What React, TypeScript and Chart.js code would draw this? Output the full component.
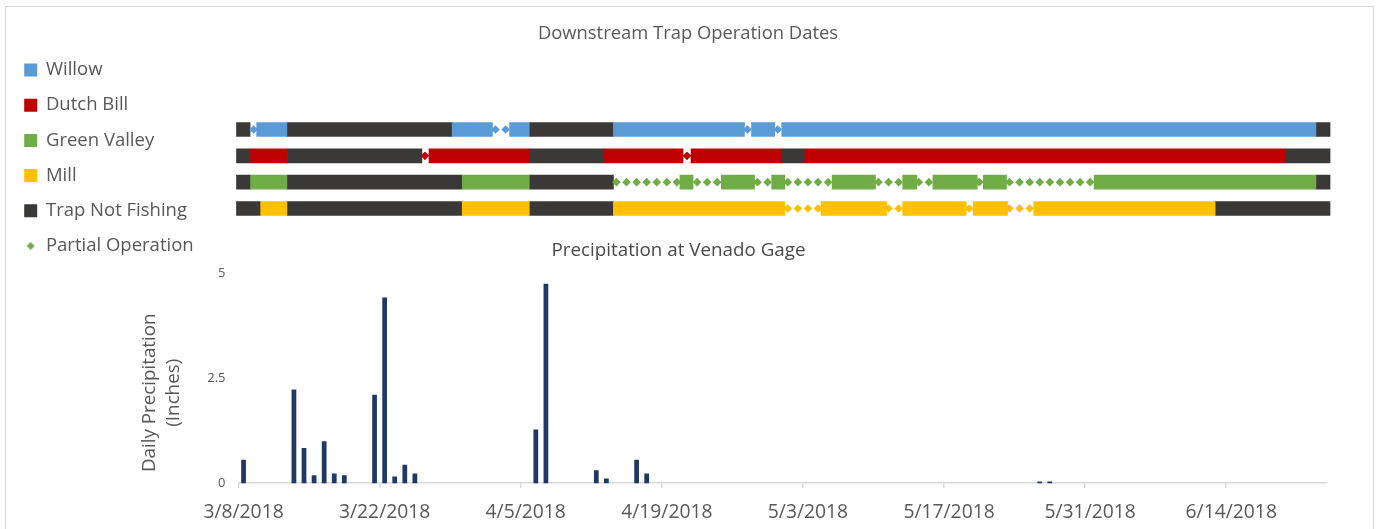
import React, { useEffect, useRef } from 'react';
import { Chart, registerables } from 'chart.js';

Chart.register(...registerables);

const FONT_FAMILY = "'Open Sans', 'Noto Sans', sans-serif";
const TEXT_COLOR = '#595959';

const chartTitle = 'Downstream Trap Operation Dates';
const precipTitle = 'Precipitation at Venado Gage';
const yAxisTitle = ['Daily Precipitation', '(Inches)'];

const rowNames = ['Willow', 'Dutch Bill', 'Green Valley', 'Mill'];
const rowColors = ['#5B9BD5', '#C00000', '#70AD47', '#FFC000'];
const notFishingLabel = 'Trap Not Fishing';
const notFishingColor = '#3B3838';
const partialLabel = 'Partial Operation';
const partialLegendColor = '#70AD47';

// Segments in days counted from the start of 3/8/2018
const willowFishing = [[1.8, 4.8], [21.2, 25.2], [26.9, 28.85], [37.2, 50.2], [50.9, 53.2], [53.9, 106.9]];
const willowNotFishing = [[-0.2, 1.15], [4.8, 21.2], [28.85, 37.2], [106.9, 108.3]];
const willowPartialDays = [1, 25, 26, 50, 53];

const dutchBillFishing = [[1.2, 4.85], [18.9, 28.85], [36.2, 44.1], [44.9, 53.9], [56.2, 103.9]];
const dutchBillNotFishing = [[-0.2, 1.2], [4.85, 18.2], [28.85, 36.2], [53.9, 56.2], [103.9, 108.3]];
const dutchBillPartialDays = [18, 44];

const greenValleyFishing = [[1.2, 4.8], [22.2, 28.85], [43.8, 45.1], [47.9, 51.2], [52.9, 54.2], [58.9, 63.2], [65.9, 67.3], [68.9, 73.3], [73.9, 76.2], [84.9, 106.9]];
const greenValleyNotFishing = [[-0.2, 1.2], [4.8, 22.2], [28.85, 37.2], [106.9, 108.3]];
const greenValleyPartialDays = [37, 38, 39, 40, 41, 42, 43, 45, 46, 47, 51, 52, 54, 55, 56, 57, 58, 63, 64, 65, 67, 68, 73, 76, 77, 78, 79, 80, 81, 82, 83, 84];

const millFishing = [[2.2, 4.8], [22.2, 28.85], [37.2, 54.2], [57.8, 64.3], [65.9, 72.2], [72.9, 76.3], [78.9, 96.9]];
const millNotFishing = [[-0.2, 2.2], [4.8, 22.2], [28.85, 37.2], [96.9, 108.3]];
const millPartialDays = [54, 55, 56, 57, 64, 65, 72, 76, 77, 78];

// Precipitation axis
const firstDate = { year: 2018, month: 3, day: 8 };
const dayCount = 108;
const tickLabels = ['3/8/2018', '3/22/2018', '4/5/2018', '4/19/2018', '5/3/2018', '5/17/2018', '5/31/2018', '6/14/2018'];
const rainDates = ['3/8/2018', '3/13/2018', '3/14/2018', '3/15/2018', '3/16/2018', '3/17/2018', '3/18/2018', '3/21/2018', '3/22/2018', '3/23/2018', '3/24/2018', '3/25/2018', '4/6/2018', '4/7/2018', '4/12/2018', '4/13/2018', '4/16/2018', '4/17/2018', '5/26/2018', '5/27/2018'];
const rainInches = [0.56, 2.23, 0.84, 0.19, 1.0, 0.23, 0.19, 2.11, 4.42, 0.16, 0.44, 0.23, 1.28, 4.75, 0.31, 0.11, 0.56, 0.23, 0.04, 0.04];
const rainColor = '#203864';

const fishingByRow = [willowFishing, dutchBillFishing, greenValleyFishing, millFishing];
const notFishingByRow = [willowNotFishing, dutchBillNotFishing, greenValleyNotFishing, millNotFishing];
const partialByRow = [willowPartialDays, dutchBillPartialDays, greenValleyPartialDays, millPartialDays];

function buildCategories(): string[] {
  const out: string[] = [];
  for (let i = 0; i < dayCount; i++) {
    const d = new Date(firstDate.year, firstDate.month - 1, firstDate.day + i);
    out.push(`${d.getMonth() + 1}/${d.getDate()}/${d.getFullYear()}`);
  }
  return out;
}

const TOP_W = 1360;
const TOP_H = 300;
const BOT_W = 1360;
const BOT_H = 301;

// moves the y-axis title's centre down to where the reference has it
const yTitleShift = {
  id: 'yTitleShift',
  afterLayout(chart: any) {
    const s = chart.scales.y;
    if (s) s.bottom += 29;
  },
};

export default function App() {
  const topRef = useRef<HTMLCanvasElement>(null);
  const botRef = useRef<HTMLCanvasElement>(null);

  useEffect(() => {
    Chart.defaults.font.family = FONT_FAMILY;
    Chart.defaults.color = TEXT_COLOR;

    const categories = buildCategories();
    const rainSeries = categories.map((c) => {
      const i = rainDates.indexOf(c);
      return i >= 0 ? rainInches[i] : null;
    });

    const bottom = new Chart(botRef.current as HTMLCanvasElement, {
      type: 'bar',
      data: {
        labels: categories,
        datasets: [
          {
            label: 'Daily Precipitation',
            data: rainSeries,
            backgroundColor: rainColor,
            borderWidth: 0,
            barPercentage: 0.47,
            categoryPercentage: 1,
          },
        ],
      },
      plugins: [yTitleShift],
      options: {
        responsive: false,
        animation: false,
        events: [],
        layout: { padding: { left: 22, right: BOT_W - 1319, top: 0, bottom: 0 } },
        plugins: {
          legend: { display: false },
          tooltip: { enabled: false },
          title: {
            display: true,
            text: precipTitle,
            color: '#4a4a4a',
            font: { size: 18.8, weight: 'normal' },
            padding: { top: 3.1, bottom: 11.6 },
          },
        },
        scales: {
          x: {
            type: 'category',
            offset: true,
            grid: {
              offset: true,
              drawOnChartArea: false,
              drawTicks: true,
              tickLength: 5,
              lineWidth: 1.5,
              color: (ctx: any) => (ctx.index % 14 === 0 ? '#d9d9d9' : 'rgba(0,0,0,0)'),
            },
            border: { display: true, color: '#d9d9d9', width: 1.5 },
            ticks: {
              autoSkip: false,
              maxRotation: 0,
              minRotation: 0,
              padding: 12.8,
              color: TEXT_COLOR,
              font: { size: 19.3 },
              callback: (_v: any, idx: number) => (tickLabels.includes(categories[idx]) ? categories[idx] : ''),
            },
          },
          y: {
            min: 0,
            max: 5,
            grid: { display: false, drawTicks: false },
            border: { display: false },
            ticks: { stepSize: 2.5, padding: 13, color: TEXT_COLOR, font: { size: 13 } },
            title: {
              display: true,
              text: yAxisTitle,
              color: TEXT_COLOR,
              font: { size: 18.8, lineHeight: 1.28 },
              padding: { top: 108, bottom: 0 },
            },
            afterFit: (scale: any) => {
              scale.width = 208.5;
            },
          },
        },
      },
    });

    const legendDiamond = document.createElement('canvas');
    legendDiamond.width = 9;
    legendDiamond.height = 9;
    const g = legendDiamond.getContext('2d');
    if (g) {
      g.fillStyle = partialLegendColor;
      g.beginPath();
      g.moveTo(4.5, 0.5);
      g.lineTo(8.5, 4.5);
      g.lineTo(4.5, 8.5);
      g.lineTo(0.5, 4.5);
      g.closePath();
      g.fill();
    }

    const ganttDatasets: any[] = [];
    const partialPoints: any[] = [];
    const partialColors: string[] = [];
    partialByRow.forEach((days, r) => {
      days.forEach((d) => {
        partialPoints.push({ x: d + 0.5, y: r });
        partialColors.push(rowColors[r]);
      });
    });
    ganttDatasets.push({
      type: 'scatter',
      label: partialLabel,
      data: partialPoints,
      pointStyle: 'rectRot',
      pointRadius: 4.3,
      pointBackgroundColor: partialColors,
      pointBorderWidth: 0,
      order: -1,
    });
    rowNames.forEach((name, r) => {
      ganttDatasets.push({
        type: 'bar',
        label: name,
        indexAxis: 'y',
        data: fishingByRow[r].map((s) => ({ x: s, y: r })),
        backgroundColor: rowColors[r],
        borderWidth: 0,
        barThickness: 14,
        grouped: false,
      });
    });
    const notFishingData: any[] = [];
    notFishingByRow.forEach((segs, r) => segs.forEach((s) => notFishingData.push({ x: s, y: r })));
    ganttDatasets.push({
      type: 'bar',
      label: notFishingLabel,
      indexAxis: 'y',
      data: notFishingData,
      backgroundColor: notFishingColor,
      borderWidth: 0,
      barThickness: 14,
      grouped: false,
    });

    const legendItems = [
      ...rowNames.map((n, i) => ({ text: n, color: rowColors[i], style: 'rect' as any })),
      { text: notFishingLabel, color: notFishingColor, style: 'rect' as any },
      { text: partialLabel, color: partialLegendColor, style: legendDiamond as any },
    ];

    const top = new Chart(topRef.current as HTMLCanvasElement, {
      type: 'bar',
      data: { datasets: ganttDatasets },
      options: {
        responsive: false,
        animation: false,
        events: [],
        indexAxis: 'y',
        plugins: {
          tooltip: { enabled: false },
          title: {
            display: true,
            text: chartTitle,
            color: TEXT_COLOR,
            font: { size: 18.4, weight: 'normal' },
            padding: { top: 14.4, bottom: 0 },
          },
          legend: {
            display: true,
            position: 'left',
            align: 'center',
            onClick: () => {},
            labels: {
              usePointStyle: true,
              boxWidth: 12,
              boxHeight: 13,
              padding: 16.7,
              color: TEXT_COLOR,
              font: { size: 18.5 },
              generateLabels: () =>
                legendItems.map((it, i) => ({
                  text: it.text,
                  fillStyle: it.color,
                  strokeStyle: it.color,
                  fontColor: TEXT_COLOR,
                  lineWidth: 0,
                  hidden: false,
                  pointStyle: it.style,
                  datasetIndex: i,
                })),
            },
          },
        },
        scales: {
          x: { type: 'linear', display: false, offset: false, min: -3, max: 110 },
          y: { type: 'linear', display: false, offset: false, reverse: true, min: -3, max: 5 },
        },
      },
    });

    // align the trap chart's day scale with the precipitation axis
    const bx: any = bottom.scales.x;
    const a = bx.getPixelForValue(-0.5);
    const b = bx.getPixelForValue(0.5) - a;
    const ca = top.chartArea;
    const rowPitch = 26.33;
    const firstRowY = 121.5;
    const xs: any = top.options.scales!.x;
    const ys: any = top.options.scales!.y;
    xs.min = (ca.left - a) / b;
    xs.max = (ca.right - a) / b;
    ys.min = -(firstRowY - ca.top) / rowPitch;
    ys.max = ys.min + (ca.bottom - ca.top) / rowPitch;
    top.update();

    return () => {
      top.destroy();
      bottom.destroy();
    };
  }, []);

  return (
    <div
      style={{
        position: 'fixed',
        left: 5,
        top: 6,
        width: 1369,
        height: 530,
        border: '1px solid #d9d9d9',
        boxSizing: 'border-box',
        background: '#ffffff',
      }}
    >
      <canvas ref={topRef} width={TOP_W} height={TOP_H} style={{ position: 'absolute', left: 2, top: 1 }} />
      <canvas ref={botRef} width={BOT_W} height={BOT_H} style={{ position: 'absolute', left: 2, top: 229 }} />
    </div>
  );
}
